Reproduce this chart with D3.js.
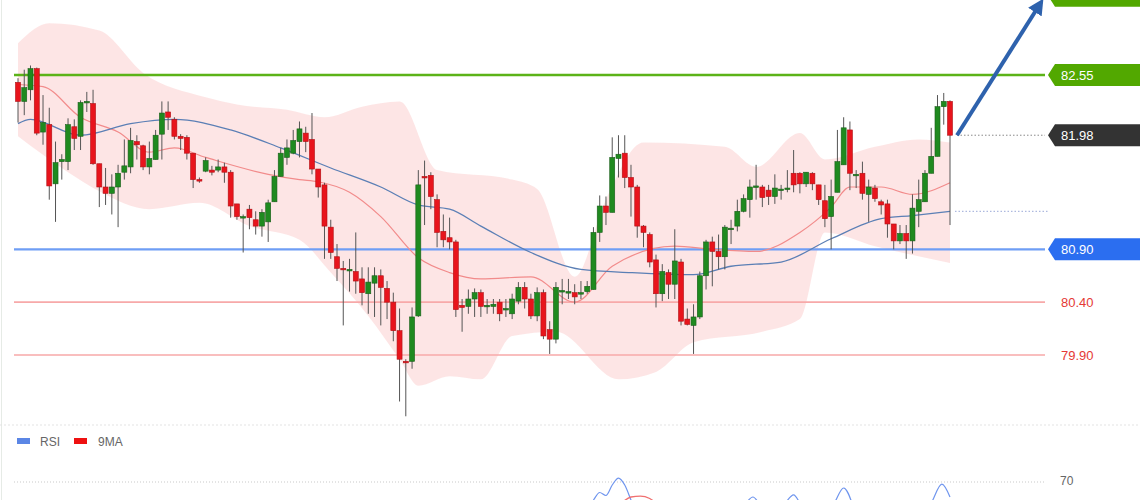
<!DOCTYPE html>
<html><head><meta charset="utf-8">
<script src="https://cdn.jsdelivr.net/npm/d3@7"></script>
<style>body{margin:0;background:#fff}svg{display:block;font-family:"Liberation Sans",Arial,sans-serif}</style>
</head><body><svg id="c" width="1140" height="500"></svg>
<script>
const open=[82.48,82.30,82.41,82.61,82.01,82.08,81.52,81.73,81.73,82.06,81.97,82.30,82.28,81.71,81.49,81.43,81.49,81.63,81.68,81.92,81.88,81.68,81.75,81.99,82.20,82.13,81.97,81.96,81.81,81.56,81.64,81.65,81.65,81.68,81.63,81.33,81.21,81.28,81.18,81.12,81.16,81.35,81.59,81.77,81.81,81.92,82.00,81.94,81.66,81.51,81.11,80.83,80.72,80.71,80.69,80.62,80.48,80.58,80.65,80.53,80.40,80.13,79.84,79.84,80.27,81.59,81.60,81.37,81.07,81.01,80.97,80.37,80.36,80.43,80.49,80.37,80.36,80.40,80.34,80.29,80.41,80.54,80.43,80.27,80.49,80.14,80.05,80.50,80.50,80.49,80.49,80.50,80.52,81.06,81.31,81.25,81.76,81.81,81.58,81.49,81.12,81.04,80.80,80.48,80.68,80.57,80.78,80.24,80.18,80.26,80.65,80.97,80.88,80.83,81.09,81.12,81.26,81.37,81.49,81.49,81.46,81.40,81.47,81.48,81.62,81.62,81.52,81.62,81.51,81.36,81.21,81.44,81.70,82.03,81.61,81.62,81.42,81.48,81.35,81.33,81.14,80.98,81.05,80.98,81.26,81.35,81.62,81.78,82.25,82.30];
const high=[82.52,82.60,82.64,82.62,82.36,82.24,81.92,81.80,82.14,82.13,82.31,82.39,82.41,81.71,81.67,81.61,81.70,81.94,82.05,81.98,81.89,81.92,82.03,82.30,82.30,82.15,81.99,81.98,81.81,81.58,81.77,81.69,81.75,81.72,81.65,81.33,81.23,81.32,81.26,81.28,81.37,81.65,81.86,81.94,82.03,82.11,82.06,82.19,81.66,81.53,81.18,80.95,80.79,80.81,81.06,80.73,80.73,80.73,80.71,80.60,80.49,80.34,79.86,80.35,81.65,81.74,81.63,81.42,81.23,81.20,80.99,80.43,80.52,80.53,80.52,80.43,80.43,80.43,80.43,80.48,80.59,80.59,80.48,80.54,80.52,80.22,80.59,80.62,80.62,80.57,80.60,80.60,81.11,81.41,81.40,81.96,81.98,81.98,81.70,81.51,81.13,81.06,80.85,80.76,80.71,81.09,80.81,80.34,80.38,80.69,80.99,81.02,81.04,81.13,81.18,81.37,81.42,81.56,81.70,81.51,81.51,81.61,81.51,81.65,81.84,81.63,81.63,81.63,81.51,81.51,81.56,82.03,82.15,82.11,81.65,81.73,81.56,81.51,81.37,81.37,81.14,81.13,81.13,81.42,81.56,81.65,82.05,82.36,82.38,82.31];
const low=[82.10,82.17,82.31,81.98,81.89,81.37,81.16,81.56,81.65,81.84,81.84,82.20,81.70,81.30,81.32,81.23,81.11,81.56,81.62,81.75,81.65,81.61,81.75,81.75,82.03,81.94,81.84,81.75,81.48,81.53,81.63,81.60,81.63,81.53,81.20,81.18,80.87,81.09,81.04,81.02,80.97,81.35,81.59,81.70,81.80,81.77,81.82,81.61,81.39,80.81,80.81,80.60,80.18,80.50,80.48,80.37,80.29,80.26,80.18,80.24,80.03,79.46,79.32,79.77,80.26,81.13,81.28,80.92,80.92,80.90,80.26,80.12,80.29,80.26,80.26,80.29,80.29,80.22,80.26,80.24,80.38,80.34,80.24,80.22,80.05,79.91,80.01,80.38,80.43,80.38,80.43,80.48,80.52,80.97,81.13,81.25,81.58,81.48,81.21,81.01,80.92,80.73,80.35,80.41,80.43,80.43,80.18,80.18,79.91,80.24,80.52,80.55,80.71,80.71,80.95,81.07,81.25,81.20,81.37,81.30,81.32,81.33,81.37,81.44,81.44,81.43,81.49,81.46,81.32,81.11,80.90,81.44,81.70,81.46,81.48,81.37,81.16,81.35,81.23,81.01,80.90,80.95,80.81,80.86,81.11,81.35,81.62,81.78,82.08,81.13];
const close=[82.30,82.43,82.61,82.00,82.10,81.50,81.72,81.75,82.08,81.95,82.29,82.30,81.71,81.49,81.43,81.49,81.62,81.69,81.93,81.89,81.68,81.76,81.98,82.19,82.15,81.97,81.95,81.81,81.56,81.55,81.74,81.63,81.68,81.63,81.31,81.21,81.21,81.20,81.12,81.25,81.34,81.59,81.81,81.86,81.93,82.04,81.92,81.66,81.49,81.12,80.87,80.72,80.71,80.71,80.60,80.49,80.59,80.65,80.54,80.40,80.13,79.86,79.83,80.26,81.51,81.58,81.40,81.06,80.99,80.97,80.33,80.35,80.43,80.49,80.36,80.37,80.38,80.29,80.34,80.43,80.54,80.43,80.27,80.49,80.08,80.05,80.54,80.51,80.50,80.45,80.49,80.55,81.06,81.31,81.25,81.77,81.80,81.58,81.49,81.12,81.06,80.78,80.48,80.69,80.57,80.79,80.22,80.19,80.26,80.65,80.97,80.88,80.83,81.11,81.10,81.26,81.38,81.49,81.50,81.39,81.40,81.48,81.47,81.48,81.51,81.52,81.63,81.52,81.37,81.19,81.40,81.73,82.05,81.62,81.61,81.43,81.49,81.38,81.32,81.14,80.98,81.05,80.98,81.29,81.37,81.62,81.78,82.25,82.30,81.98];

const bandUpperIdx=[0,5,13,20,30,35,43,49,55,61,67,79,83,89,94,100,113,118,125,129,137,144,149];
const bandUpper=[82.85,83.04,82.97,82.57,82.34,82.27,82.22,82.15,82.25,82.30,81.65,81.56,81.47,80.64,81.37,81.91,81.87,81.68,82.00,81.75,81.87,81.94,81.91];
const bandLowerIdx=[0,8,13,21,29,37,45,50,56,61,64,69,74,79,86,96,102,108,119,125,129,137,149];
const bandLower=[81.97,81.63,81.45,81.28,81.34,81.12,80.99,80.68,80.27,79.86,79.61,79.70,79.67,80.08,80.12,79.67,79.74,80.02,80.12,80.24,81.06,80.93,80.77];
const midIdx=[0,4,10,16,21,25,30,40,45,48,53,58,64,69,74,82,89,95,105,111,118,125,130,133,138,143,149];
const midMA=[82.46,82.44,82.15,82.01,81.82,81.86,81.77,81.61,81.56,81.54,81.44,81.21,80.82,80.68,80.62,80.64,80.40,80.74,80.93,80.90,80.88,81.06,81.30,81.49,81.49,81.42,81.53];
const slowIdx=[0,2,10,18,25,34,42,50,58,64,69,74,82,90,98,108,114,122,130,138,143,149];
const slowMA=[82.09,82.13,81.98,82.09,82.13,82.03,81.86,81.67,81.49,81.32,81.28,81.12,80.87,80.71,80.68,80.66,80.74,80.78,81.00,81.19,81.22,81.26];

const levelValues=[82.55,80.90,80.40,79.90];
const levelLabels=["82.55","80.90","80.40","79.90"];
const lastPrice=81.98, lastLabel="81.98";
const targetValue=83.30;

const rsiIdx=[90,92,93,94,95,96,97,98,99,115,116,117.5,119,122,124,125.5,130,132,133.5,145,146,147.7,149];
const rsiVal=[58,64,66.5,65.5,69,71.3,69,64,59,60,62,65,62,62,65.7,62,62,68,62,60,63,69.3,65];
const maIdx=[96.5,98,99.5,101,102.5];
const maVal=[63,65,65.3,64.5,62];

const svg=d3.select("#c");
const x=d3.scaleLinear().domain([0,149]).range([18,950]);
const y=d3.scaleLinear().domain([79.90,82.55]).range([355,75]);
const yr=d3.scaleLinear().domain([70,50]).range([482,542]);

svg.append("line").attr("x1",1.5).attr("x2",1.5).attr("y1",0).attr("y2",500).attr("stroke","#e6ebe6");

const curve=d3.curveMonotoneX;
const lu=d3.line().x(d=>x(d[0])).y(d=>y(d[1])).curve(curve);
const up=bandUpperIdx.map((d,i)=>[d,bandUpper[i]]);
const lo=bandLowerIdx.map((d,i)=>[d,bandLower[i]]);
const upPath=lu(up);
const loPath=lu(lo.slice().reverse());
svg.append("path").attr("d",upPath+"L"+loPath.slice(1)+"Z").attr("fill","#fde0e0").attr("opacity",0.85);

const lvStyle=[{c:"#5cb318",w:2.5},{c:"#6f9ef5",w:2.2},{c:"#f7a9a9",w:1.6},{c:"#f7a9a9",w:1.6}];
levelValues.forEach((v,i)=>{
  svg.append("line").attr("x1",14).attr("x2",1045).attr("y1",y(v)).attr("y2",y(v))
    .attr("stroke",lvStyle[i].c).attr("stroke-width",lvStyle[i].w);
});

svg.append("path").attr("d",lu(midIdx.map((d,i)=>[d,midMA[i]]))).attr("fill","none").attr("stroke","#f28b8b").attr("stroke-width",1.2);
svg.append("path").attr("d",lu(slowIdx.map((d,i)=>[d,slowMA[i]]))).attr("fill","none").attr("stroke","#5b7fb5").attr("stroke-width",1.3);

svg.append("line").attr("x1",957).attr("x2",1045).attr("y1",y(lastPrice)).attr("y2",y(lastPrice)).attr("stroke","#8a8a8a").attr("stroke-dasharray","1.5,2");
svg.append("line").attr("x1",955).attr("x2",1048).attr("y1",y(slowMA[slowMA.length-1])).attr("y2",y(slowMA[slowMA.length-1])).attr("stroke","#9aa8d8").attr("stroke-dasharray","1.5,2");

const g=svg.append("g");
close.forEach((c,i)=>{
  const o=open[i], isUp=c>=o, cx=x(i);
  g.append("line").attr("x1",cx).attr("x2",cx).attr("y1",y(high[i])).attr("y2",y(low[i])).attr("stroke","#555").attr("stroke-width",1);
  const t=y(Math.max(o,c)), b=y(Math.min(o,c));
  g.append("rect").attr("x",cx-2.5).attr("y",t).attr("width",5).attr("height",Math.max(1.5,b-t))
    .attr("fill",isUp?"#1f8a1f":"#e8141c").attr("stroke",isUp?"#1a5e1a":"#b01015").attr("stroke-width",0.6);
});

function tag(v,label,bg,fg){
  const yy=y(v);
  const gg=svg.append("g");
  if(bg){
    gg.append("path").attr("d",`M1048,${yy}L1055,${yy-11}L1140,${yy-11}L1140,${yy+11}L1055,${yy+11}Z`).attr("fill",bg);
  }
  if(label) gg.append("text").attr("x",1061).attr("y",yy+4.5).attr("fill",fg).attr("font-size",13).text(label);
}
tag(targetValue,null,"#52a800","#fff");
tag(levelValues[0],levelLabels[0],"#52a800","#fff");
tag(lastPrice,lastLabel,"#333","#fff");
tag(levelValues[1],levelLabels[1],"#2b6ef0","#fff");
tag(levelValues[2],levelLabels[2],null,"#e53935");
tag(levelValues[3],levelLabels[3],null,"#e53935");

svg.append("defs").append("marker").attr("id","ah").attr("viewBox","0 0 10 10").attr("refX",6).attr("refY",5)
  .attr("markerWidth",4).attr("markerHeight",4).attr("orient","auto")
  .append("path").attr("d","M0,0L10,5L0,10Z").attr("fill","#2e62ad");
svg.append("line").attr("x1",957).attr("y1",y(lastPrice)).attr("x2",1040).attr("y2",4)
  .attr("stroke","#2e62ad").attr("stroke-width",4).attr("marker-end","url(#ah)");

svg.append("line").attr("x1",0).attr("x2",1140).attr("y1",425).attr("y2",425).attr("stroke","#e3e3e3").attr("stroke-dasharray","2,2");
svg.append("rect").attr("x",17).attr("y",438).attr("width",13).attr("height",6).attr("fill","#5b86e5");
svg.append("text").attr("x",40).attr("y",446).attr("font-size",12).attr("fill","#666").text("RSI");
svg.append("rect").attr("x",74).attr("y",438).attr("width",13).attr("height",6).attr("fill","#ee1111");
svg.append("text").attr("x",98).attr("y",446).attr("font-size",12).attr("fill","#666").text("9MA");
svg.append("line").attr("x1",14).attr("x2",1045).attr("y1",yr(70)).attr("y2",yr(70)).attr("stroke","#c9c9c9").attr("stroke-dasharray","1,2");
svg.append("text").attr("x",1060).attr("y",485).attr("font-size",12).attr("fill","#666").text("70");
svg.append("clipPath").attr("id","rc").append("rect").attr("x",0).attr("y",430).attr("width",1140).attr("height",70);
const lr=d3.line().x(d=>x(d[0])).y(d=>yr(d[1])).curve(d3.curveMonotoneX);
const rsiPts=rsiIdx.map((d,i)=>[d,rsiVal[i]]);
[[0,9],[9,19],[19,23]].forEach(([a,b])=>{
  svg.append("path").attr("clip-path","url(#rc)").attr("d",lr(rsiPts.slice(a,b))).attr("fill","none").attr("stroke","#6f95ee").attr("stroke-width",1.2);
});
svg.append("path").attr("clip-path","url(#rc)").attr("d",lr(maIdx.map((d,i)=>[d,maVal[i]]))).attr("fill","none").attr("stroke","#f07070").attr("stroke-width",1.4);
</script></body></html>
